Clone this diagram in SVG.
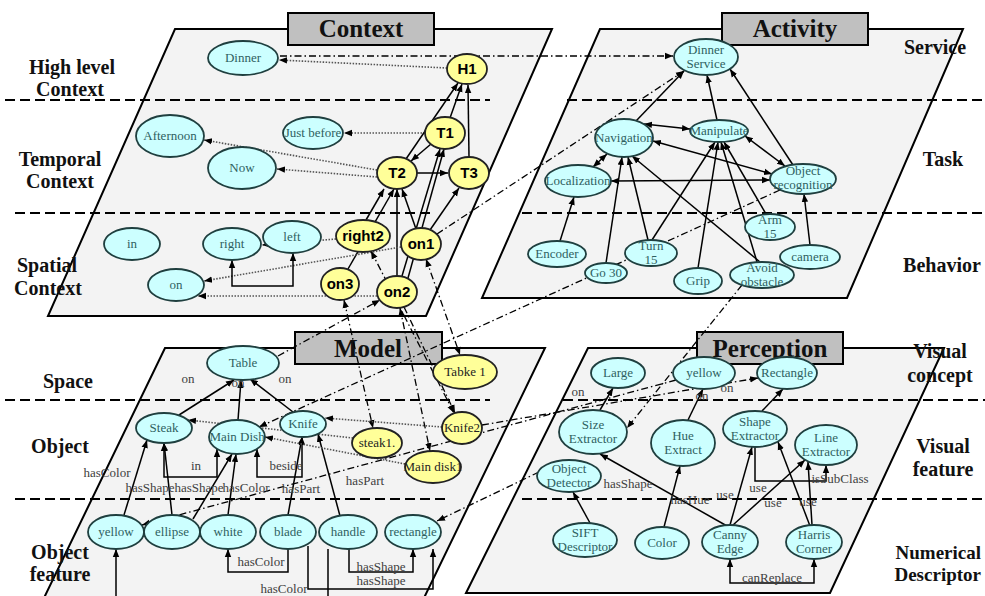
<svg xmlns="http://www.w3.org/2000/svg" width="985" height="596" viewBox="0 0 985 596">
<defs>
<marker id="ah" viewBox="0 0 10 10" refX="10" refY="5" markerWidth="8" markerHeight="8" markerUnits="userSpaceOnUse" orient="auto-start-reverse"><path d="M0,1 L10,5 L0,9 z" fill="#000"/></marker>
</defs>
<style>
.pn{fill:#f3f3f3;stroke:#000;stroke-width:2}
.tb{fill:#c0c0c0;stroke:#000;stroke-width:2}
.tt{font:bold 25px "Liberation Serif",serif;text-anchor:middle;fill:#111}
.rl{font:bold 20px "Liberation Serif",serif;text-anchor:middle;fill:#111}
.dl{stroke:#000;stroke-width:2.2;stroke-dasharray:10 5;fill:none}
.c ellipse{fill:#ccffff;stroke:#1f3f3f;stroke-width:1.8}
.c text{font:13px "Liberation Serif",serif;fill:#2f5f5f;text-anchor:middle}
.y ellipse{fill:#ffff99;stroke:#222;stroke-width:1.8}
.y text{font:bold 15px "Liberation Sans",sans-serif;fill:#000;text-anchor:middle}
.w ellipse{fill:#ffff99;stroke:#222;stroke-width:1.8}
.w text{font:13px "Liberation Serif",serif;fill:#222;text-anchor:middle}
.s{stroke:#000;stroke-width:1.5;fill:none}
.d{stroke:#555;stroke-width:1.6;stroke-dasharray:1.5 1.5;fill:none}
.dd{stroke:#000;stroke-width:1.3;stroke-dasharray:7 3 1.5 3;fill:none}
.e{marker-end:url(#ah)}
.b{marker-start:url(#ah);marker-end:url(#ah)}
.el{font:13px "Liberation Serif",serif;fill:#404040;text-anchor:middle}
</style>
<rect width="985" height="596" fill="#fff"/>
<g id="panels">
<polygon class="pn" points="175,29 552,29 426,316 48,316"/>
<polygon class="pn" points="600,29 963,29 847,298 482,298"/>
<polygon class="pn" points="165,348 545,348 423,600 43,600"/>
<polygon class="pn" points="588,348 944,348 830,593 466,593"/>
</g>
<g id="dividers">
<path class="dl" d="M5,100 H490 M567,100 H985 M15,213 H433 M522,213 H985 M5,400 H490 M563,400 H985 M15,499 H450 M522,499 H985"/>
</g>
<g id="titles">
<rect class="tb" x="288" y="13" width="146" height="32"/><text class="tt" x="361" y="37">Context</text>
<rect class="tb" x="722" y="13" width="146" height="32"/><text class="tt" x="795" y="37">Activity</text>
<rect class="tb" x="295" y="332" width="147" height="32"/><text class="tt" x="368" y="357">Model</text>
<rect class="tb" x="697" y="332" width="146" height="32"/><text class="tt" x="770" y="357">Perception</text>
</g>
<g id="row-labels">
<text class="rl" x="72" y="74">High level</text><text class="rl" x="70" y="96">Context</text>
<text class="rl" x="60" y="166">Temporal</text><text class="rl" x="60" y="188">Context</text>
<text class="rl" x="47" y="272">Spatial</text><text class="rl" x="48" y="295">Context</text>
<text class="rl" x="68" y="388">Space</text>
<text class="rl" x="60" y="453">Object</text>
<text class="rl" x="60" y="559">Object</text><text class="rl" x="60" y="581">feature</text>
<text class="rl" x="935" y="54">Service</text>
<text class="rl" x="943" y="166">Task</text>
<text class="rl" x="942" y="272">Behavior</text>
<text class="rl" x="940" y="358">Visual</text><text class="rl" x="940" y="382">concept</text>
<text class="rl" x="943" y="453">Visual</text><text class="rl" x="943" y="476">feature</text>
<text class="rl" x="981" y="559" style="text-anchor:end;font-size:19px">Numerical</text><text class="rl" x="981" y="581" style="text-anchor:end;font-size:19px">Descriptor</text>
</g>
<g id="connectors">
<line class="d e" x1="447" y1="68" x2="279" y2="60"/>
<line class="dd e" x1="280" y1="56" x2="673" y2="56"/>
<line class="d e" x1="425" y1="133" x2="344" y2="133"/>
<line class="d e" x1="377" y1="170" x2="204" y2="140"/>
<line class="d e" x1="377" y1="177" x2="277" y2="169"/>
<line class="s e" x1="450" y1="118" x2="462" y2="84"/>
<line class="s e" x1="406" y1="159" x2="458" y2="83"/>
<line class="s e" x1="469" y1="157" x2="468" y2="85"/>
<line class="s e" x1="431" y1="144" x2="411" y2="161"/>
<line class="s e" x1="417" y1="173" x2="448" y2="173"/>
<line class="s e" x1="366" y1="220" x2="384" y2="189"/>
<line class="s e" x1="348" y1="269" x2="394" y2="189"/>
<line class="s e" x1="397" y1="276" x2="397" y2="189"/>
<line class="s e" x1="416" y1="229" x2="402" y2="189"/>
<line class="s e" x1="402" y1="276" x2="440" y2="149"/>
<line class="s e" x1="408" y1="278" x2="444" y2="149"/>
<line class="s e" x1="430" y1="230" x2="459" y2="188"/>
<line class="d e" x1="336" y1="239" x2="262" y2="245"/>
<line class="d e" x1="401" y1="247" x2="204" y2="281"/>
<line class="d e" x1="377" y1="296" x2="198" y2="296"/>
<path class="s b" d="M232,260 V286 H293 V253"/>
<line class="dd b" x1="426" y1="259" x2="460" y2="355"/>
<line class="dd b" x1="344" y1="300" x2="373" y2="428"/>
<line class="dd b" x1="371" y1="251" x2="454" y2="413"/>
<line class="dd b" x1="400" y1="308" x2="430" y2="451"/>
<line class="dd e" x1="404" y1="307" x2="455" y2="413"/>
<line class="dd e" x1="278" y1="356" x2="380" y2="300"/>
<line class="dd e" x1="780" y1="190" x2="259" y2="427"/>
<line class="dd e" x1="437" y1="234" x2="684" y2="71"/>
<line class="dd e" x1="742" y1="285" x2="627" y2="428"/>
<line class="dd e" x1="482" y1="425" x2="758" y2="378"/>
<line class="dd e" x1="676" y1="380" x2="142" y2="525"/>
<line class="dd e" x1="539" y1="472" x2="437" y2="521"/>
<line class="s e" x1="636" y1="121" x2="684" y2="71"/>
<line class="s e" x1="717" y1="120" x2="707" y2="75"/>
<line class="s e" x1="793" y1="165" x2="730" y2="69"/>
<line class="s b" x1="644" y1="124" x2="690" y2="129"/>
<line class="s b" x1="745" y1="136" x2="785" y2="166"/>
<line class="s b" x1="772" y1="174" x2="653" y2="141"/>
<line class="s b" x1="611" y1="181" x2="770" y2="180"/>
<line class="s b" x1="593" y1="167" x2="607" y2="154"/>
<line class="s e" x1="560" y1="241" x2="574" y2="197"/>
<line class="s e" x1="606" y1="263" x2="622" y2="157"/>
<line class="s e" x1="648" y1="240" x2="628" y2="157"/>
<line class="s e" x1="652" y1="240" x2="715" y2="142"/>
<line class="s e" x1="760" y1="262" x2="632" y2="156"/>
<line class="s e" x1="757" y1="262" x2="721" y2="142"/>
<line class="s e" x1="698" y1="268" x2="718" y2="142"/>
<line class="s e" x1="766" y1="214" x2="724" y2="142"/>
<line class="s e" x1="810" y1="245" x2="804" y2="194"/>
<line class="s e" x1="179" y1="415" x2="234" y2="380"/>
<line class="s e" x1="238" y1="420" x2="241" y2="380"/>
<line class="s e" x1="293" y1="412" x2="250" y2="379"/>
<path class="s b" d="M164,443 V477 H217 V449"/>
<path class="s b" d="M257,449 V477 H302 V437"/>
<line class="s e" x1="124" y1="515" x2="147" y2="440"/>
<line class="s e" x1="172" y1="515" x2="164" y2="443"/>
<line class="s e" x1="193" y1="519" x2="232" y2="454"/>
<line class="s e" x1="228" y1="515" x2="236" y2="454"/>
<line class="s e" x1="288" y1="515" x2="302" y2="437"/>
<line class="s e" x1="340" y1="516" x2="318" y2="434"/>
<path class="s e" d="M288,549 V572 H228 V549"/>
<path class="s e" d="M349,549 V572 H413 V549"/>
<path class="s e" d="M308,546 V589 H433 V549"/>
<path class="s e" d="M328,549 V600 H116 V549"/>
<line class="d e" x1="353" y1="438" x2="188" y2="420"/>
<line class="d e" x1="442" y1="427" x2="325" y2="418"/>
<line class="d e" x1="405" y1="464" x2="265" y2="437"/>
<line class="s e" x1="600" y1="410" x2="613" y2="388"/>
<line class="s e" x1="688" y1="420" x2="703" y2="389"/>
<line class="s e" x1="762" y1="411" x2="783" y2="389"/>
<line class="s e" x1="590" y1="523" x2="573" y2="492"/>
<line class="s e" x1="664" y1="527" x2="680" y2="466"/>
<line class="s e" x1="730" y1="525" x2="752" y2="447"/>
<line class="s e" x1="733" y1="525" x2="805" y2="460"/>
<line class="s e" x1="727" y1="526" x2="600" y2="454"/>
<line class="s e" x1="810" y1="526" x2="778" y2="442"/>
<line class="s e" x1="812" y1="525" x2="808" y2="462"/>
<path class="s e" d="M755,447 V481 H826 V465"/>
<path class="s b" d="M730,559 V583 H814 V559"/>
</g>
<g id="edge-labels">
<text class="el" x="188" y="383">on</text><text class="el" x="238" y="387">on</text><text class="el" x="285" y="383">on</text>
<text class="el" x="196" y="470">in</text><text class="el" x="286" y="470">beside</text>
<text class="el" x="107" y="477">hasColor</text>
<text class="el" x="150" y="492">hasShape</text><text class="el" x="199" y="492">hasShape</text><text class="el" x="246" y="492">hasColor</text>
<text class="el" x="301" y="493">hasPart</text><text class="el" x="365" y="485">hasPart</text>
<text class="el" x="261" y="566">hasColor</text>
<text class="el" x="381" y="571">hasShape</text><text class="el" x="381" y="585">hasShape</text>
<text class="el" x="284" y="593">hasColor</text>
<text class="el" x="578" y="396">on</text><text class="el" x="702" y="400">on</text><text class="el" x="727" y="392">on</text>
<text class="el" x="628" y="488">hasShape</text><text class="el" x="690" y="504">hasHue</text>
<text class="el" x="725" y="499">use</text><text class="el" x="758" y="492">use</text><text class="el" x="773" y="507">use</text><text class="el" x="808" y="506">use</text>
<text class="el" x="840" y="483">isSubClass</text>
<text class="el" x="772" y="582">canReplace</text>
</g>
<g id="n-dinner" class="c"><ellipse cx="243" cy="58" rx="35" ry="17"/><text x="243" y="62">Dinner</text></g>
<g id="n-h1" class="y"><ellipse cx="467" cy="69" rx="20" ry="15"/><text x="467" y="74">H1</text></g>
<g id="n-afternoon" class="c"><ellipse cx="170" cy="136" rx="34" ry="21"/><text x="170" y="140">Afternoon</text></g>
<g id="n-now" class="c"><ellipse cx="242" cy="168" rx="34" ry="21"/><text x="242" y="172">Now</text></g>
<g id="n-justbefore" class="c"><ellipse cx="313" cy="133" rx="30" ry="16"/><text x="313" y="137">Just before</text></g>
<g id="n-t1" class="y"><ellipse cx="445" cy="133" rx="20" ry="16"/><text x="445" y="138">T1</text></g>
<g id="n-t2" class="y"><ellipse cx="397" cy="173" rx="20" ry="16"/><text x="397" y="178">T2</text></g>
<g id="n-t3" class="y"><ellipse cx="469" cy="173" rx="20" ry="16"/><text x="469" y="178">T3</text></g>
<g id="n-in" class="c"><ellipse cx="132" cy="244" rx="28" ry="16"/><text x="132" y="248">in</text></g>
<g id="n-right" class="c"><ellipse cx="232" cy="244" rx="29" ry="16"/><text x="232" y="248">right</text></g>
<g id="n-left" class="c"><ellipse cx="292" cy="237" rx="29" ry="16"/><text x="292" y="241">left</text></g>
<g id="n-on" class="c"><ellipse cx="176" cy="285" rx="28" ry="16"/><text x="176" y="289">on</text></g>
<g id="n-right2" class="y"><ellipse cx="363" cy="236" rx="27" ry="16"/><text x="363" y="241">right2</text></g>
<g id="n-on1" class="y"><ellipse cx="421" cy="244" rx="20" ry="16"/><text x="421" y="249">on1</text></g>
<g id="n-on3" class="y"><ellipse cx="340" cy="284" rx="19" ry="16"/><text x="340" y="289">on3</text></g>
<g id="n-on2" class="y"><ellipse cx="397" cy="292" rx="20" ry="16"/><text x="397" y="297">on2</text></g>
<g id="n-dinnerservice" class="c"><ellipse cx="706" cy="57" rx="32" ry="18"/><text x="706" y="54">Dinner</text><text x="706" y="68">Service</text></g>
<g id="n-navigation" class="c"><ellipse cx="624" cy="138" rx="29" ry="19"/><text x="624" y="142">Navigation</text></g>
<g id="n-manipulate" class="c"><ellipse cx="719" cy="131" rx="29" ry="11"/><text x="719" y="135">Manipulate</text></g>
<g id="n-localization" class="c"><ellipse cx="578" cy="181" rx="33" ry="16"/><text x="578" y="185">Localization</text></g>
<g id="n-objrec" class="c"><ellipse cx="803" cy="179" rx="33" ry="15"/><text x="803" y="175">Object</text><text x="803" y="189">recognition</text></g>
<g id="n-encoder" class="c"><ellipse cx="557" cy="254" rx="29" ry="13"/><text x="557" y="258">Encoder</text></g>
<g id="n-go30" class="c"><ellipse cx="606" cy="273" rx="21" ry="10"/><text x="606" y="277">Go 30</text></g>
<g id="n-turn15" class="c"><ellipse cx="651" cy="253" rx="26" ry="13"/><text x="651" y="250">Turn</text><text x="651" y="264">15</text></g>
<g id="n-grip" class="c"><ellipse cx="698" cy="281" rx="24" ry="13"/><text x="698" y="285">Grip</text></g>
<g id="n-arm15" class="c"><ellipse cx="770" cy="227" rx="25" ry="13"/><text x="770" y="224">Arm</text><text x="770" y="238">15</text></g>
<g id="n-camera" class="c"><ellipse cx="810" cy="257" rx="30" ry="12"/><text x="810" y="261">camera</text></g>
<g id="n-avoid" class="c"><ellipse cx="762" cy="275" rx="32" ry="13"/><text x="762" y="272">Avoid</text><text x="762" y="286">obstacle</text></g>
<g id="n-table" class="c"><ellipse cx="243" cy="363" rx="36" ry="17"/><text x="243" y="367">Table</text></g>
<g id="n-steak" class="c"><ellipse cx="164" cy="428" rx="28" ry="15"/><text x="164" y="432">Steak</text></g>
<g id="n-maindish" class="c"><ellipse cx="237" cy="437" rx="28" ry="17"/><text x="237" y="441">Main Dish</text></g>
<g id="n-knife" class="c"><ellipse cx="303" cy="424" rx="23" ry="13"/><text x="303" y="428">Knife</text></g>
<g id="n-steak1" class="w"><ellipse cx="377" cy="443" rx="25" ry="15"/><text x="377" y="447">steak1.</text></g>
<g id="n-maindisk1" class="w"><ellipse cx="433" cy="467" rx="28" ry="16"/><text x="433" y="471">Main disk1</text></g>
<g id="n-knife2" class="w"><ellipse cx="462" cy="428" rx="20" ry="16"/><text x="462" y="432">Knife2</text></g>
<g id="n-tabke1" class="w"><ellipse cx="465" cy="372" rx="32" ry="17"/><text x="465" y="376">Tabke 1</text></g>
<g id="n-yellow-m" class="c"><ellipse cx="116" cy="532" rx="28" ry="17"/><text x="116" y="536">yellow</text></g>
<g id="n-ellipse" class="c"><ellipse cx="172" cy="532" rx="28" ry="17"/><text x="172" y="536">ellipse</text></g>
<g id="n-white" class="c"><ellipse cx="228" cy="532" rx="28" ry="17"/><text x="228" y="536">white</text></g>
<g id="n-blade" class="c"><ellipse cx="288" cy="532" rx="28" ry="17"/><text x="288" y="536">blade</text></g>
<g id="n-handle" class="c"><ellipse cx="348" cy="532" rx="29" ry="17"/><text x="348" y="536">handle</text></g>
<g id="n-rectangle-m" class="c"><ellipse cx="413" cy="532" rx="28" ry="17"/><text x="413" y="536">rectangle</text></g>
<g id="n-large" class="c"><ellipse cx="618" cy="373" rx="27" ry="15"/><text x="618" y="377">Large</text></g>
<g id="n-yellow-p" class="c"><ellipse cx="704" cy="373" rx="31" ry="16"/><text x="704" y="377">yellow</text></g>
<g id="n-rectangle-p" class="c"><ellipse cx="787" cy="373" rx="30" ry="16"/><text x="787" y="377">Rectangle</text></g>
<g id="n-sizeex" class="c"><ellipse cx="593" cy="432" rx="34" ry="22"/><text x="593" y="429">Size</text><text x="593" y="443">Extractor</text></g>
<g id="n-objdet" class="c"><ellipse cx="569" cy="476" rx="32" ry="16"/><text x="569" y="473">Object</text><text x="569" y="487">Detector</text></g>
<g id="n-hueex" class="c"><ellipse cx="683" cy="443" rx="32" ry="23"/><text x="683" y="440">Hue</text><text x="683" y="454">Extract</text></g>
<g id="n-shapeex" class="c"><ellipse cx="755" cy="429" rx="32" ry="18"/><text x="755" y="426">Shape</text><text x="755" y="440">Extractor</text></g>
<g id="n-lineex" class="c"><ellipse cx="826" cy="445" rx="31" ry="20"/><text x="826" y="442">Line</text><text x="826" y="456">Extractor</text></g>
<g id="n-sift" class="c"><ellipse cx="585" cy="540" rx="32" ry="17"/><text x="585" y="537">SIFT</text><text x="585" y="551">Descriptor</text></g>
<g id="n-color" class="c"><ellipse cx="662" cy="543" rx="27" ry="16"/><text x="662" y="547">Color</text></g>
<g id="n-canny" class="c"><ellipse cx="730" cy="542" rx="28" ry="17"/><text x="730" y="539">Canny</text><text x="730" y="553">Edge</text></g>
<g id="n-harris" class="c"><ellipse cx="814" cy="542" rx="28" ry="17"/><text x="814" y="539">Harris</text><text x="814" y="553">Corner</text></g>
</svg>
